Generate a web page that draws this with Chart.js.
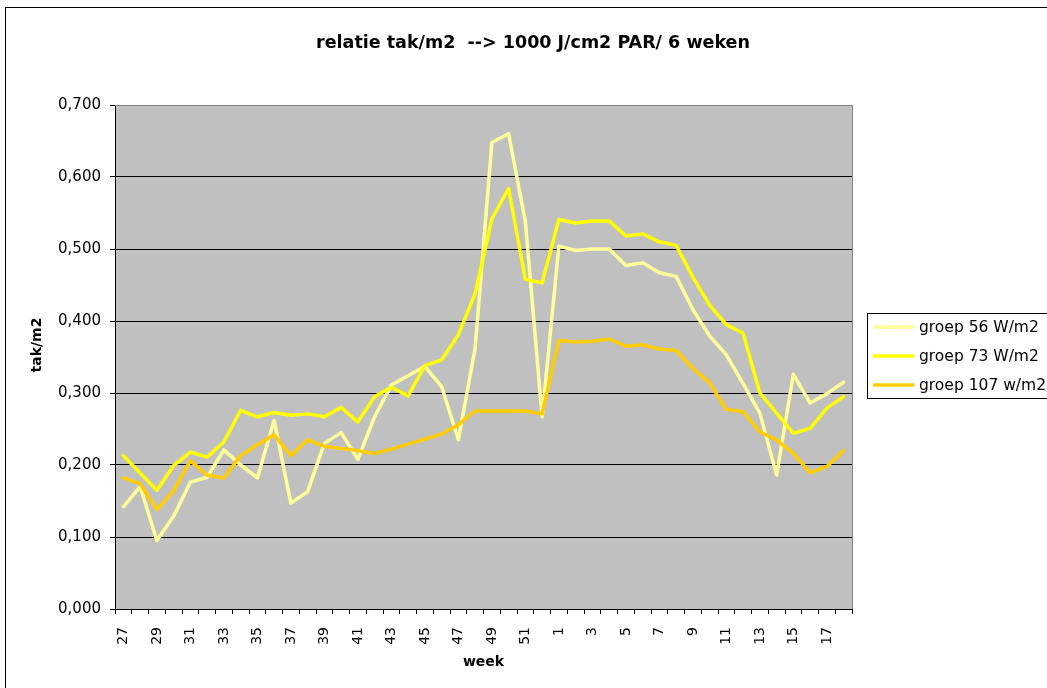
<!DOCTYPE html>
<html>
<head>
<meta charset="utf-8">
<script src="https://cdn.jsdelivr.net/npm/chart.js@4.4.1/dist/chart.umd.min.js"></script>
<style>
html,body{margin:0;padding:0;background:#fff;}
#wrap{position:relative;width:1047px;height:688px;}
</style>
</head>
<body>
<div id="wrap"><canvas id="c" width="1047" height="688"></canvas></div>
<script>
const weeks = [27,28,29,30,31,32,33,34,35,36,37,38,39,40,41,42,43,44,45,46,47,48,49,50,51,52,1,2,3,4,5,6,7,8,9,10,11,12,13,14,15,16,17,18];
const groep56 = [0.142,0.170,0.095,0.129,0.176,0.183,0.221,0.200,0.182,0.262,
                 0.147,0.163,0.230,0.245,0.208,0.267,0.311,0.324,0.337,0.309,
                 0.235,0.362,0.648,0.660,0.538,0.267,
                 0.504,0.498,0.500,0.500,0.477,0.481,0.467,0.462,0.416,0.379,
                 0.353,0.313,0.272,0.186,0.326,0.286,0.299,0.315];
const groep73 = [0.213,0.189,0.165,0.199,0.218,0.211,0.232,0.276,0.267,0.273,
                 0.269,0.271,0.267,0.280,0.260,0.295,0.308,0.296,0.338,0.346,
                 0.381,0.438,0.542,0.584,0.458,0.453,
                 0.541,0.536,0.539,0.539,0.518,0.521,0.510,0.505,0.461,0.422,
                 0.395,0.383,0.300,0.272,0.244,0.251,0.279,0.295];
const groep107 = [0.182,0.174,0.138,0.164,0.206,0.186,0.182,0.213,0.228,0.242,
                  0.213,0.235,0.226,0.223,0.220,0.216,0.222,0.229,0.236,0.243,
                  0.256,0.275,0.275,0.275,0.275,0.271,
                  0.373,0.371,0.372,0.375,0.365,0.367,0.361,0.359,0.334,0.314,
                  0.277,0.274,0.246,0.235,0.216,0.189,0.198,0.220];
const seriesLabels = ['groep 56 W/m2','groep 73 W/m2','groep 107 w/m2'];
const yTicks = [0,0.1,0.2,0.3,0.4,0.5,0.6,0.7];
const titleText = 'relatie tak/m2  --> 1000 J/cm2 PAR/ 6 weken';
const xTitle = 'week';
const yTitle = 'tak/m2';

const FONT = '"DejaVu Sans", "Liberation Sans", Arial, sans-serif';

const decor = {
  id: 'decor',
  beforeDraw(chart) {
    const ctx = chart.ctx, a = chart.chartArea;
    ctx.save();
    ctx.fillStyle = '#fff';
    ctx.fillRect(0, 0, chart.width, chart.height);
    ctx.fillStyle = '#C0C0C0';
    ctx.fillRect(a.left, a.top, a.right - a.left, a.bottom - a.top);
    ctx.restore();
  },
  beforeDatasetsDraw(chart) {
    const ctx = chart.ctx, a = chart.chartArea;
    ctx.save();
    ctx.strokeStyle = '#808080';
    ctx.lineWidth = 1;
    ctx.beginPath();
    ctx.moveTo(a.left, a.top + 0.5);
    ctx.lineTo(a.right + 0.5, a.top + 0.5);
    ctx.lineTo(a.right + 0.5, a.bottom);
    ctx.stroke();
    ctx.restore();
  },
  afterDraw(chart) {
    const ctx = chart.ctx, a = chart.chartArea;
    ctx.save();
    ctx.strokeStyle = '#000';
    ctx.lineWidth = 1;
    ctx.strokeRect(5.5, 7.5, 1200, 1000);
    ctx.fillStyle = '#000';
    ctx.textAlign = 'center';
    ctx.textBaseline = 'middle';
    ctx.font = 'bold 17.5px ' + FONT;
    ctx.fillText(titleText, 533, 43);
    ctx.font = 'bold 14px ' + FONT;
    ctx.fillText(xTitle, (a.left + a.right) / 2, 662);
    ctx.translate(37, 345);
    ctx.rotate(-Math.PI / 2);
    ctx.fillText(yTitle, 0, 0);
    ctx.restore();
    ctx.save();
    ctx.strokeStyle = '#000';
    ctx.lineWidth = 1;
    ctx.strokeRect(867.5, 313.5, 300, 85);
    ctx.font = '15.5px ' + FONT;
    ctx.textAlign = 'left';
    ctx.textBaseline = 'middle';
    const rows = [327, 356, 385];
    chart.data.datasets.forEach((ds, i) => {
      ctx.strokeStyle = ds.borderColor;
      ctx.lineWidth = 3.5;
      ctx.beginPath();
      ctx.moveTo(873, rows[i]);
      ctx.lineTo(914, rows[i]);
      ctx.stroke();
      ctx.fillStyle = '#000';
      ctx.fillText(ds.label, 919, rows[i] + 1);
    });
    ctx.restore();
  }
};

new Chart(document.getElementById('c'), {
  type: 'line',
  data: {
    labels: weeks,
    datasets: [
      {label: seriesLabels[0], data: groep56, borderColor: '#FFFF99', order: 2},
      {label: seriesLabels[1], data: groep73, borderColor: '#FFFF00', order: 1},
      {label: seriesLabels[2], data: groep107, borderColor: '#FFCC00', order: 0}
    ]
  },
  options: {
    responsive: false,
    animation: false,
    devicePixelRatio: 1,
    layout: {padding: {left: 0, top: 105, right: 195, bottom: 0}},
    elements: {
      line: {borderWidth: 3.5, tension: 0, borderCapStyle: 'round', borderJoinStyle: 'round', fill: false},
      point: {radius: 0, hoverRadius: 0}
    },
    plugins: {legend: {display: false}, title: {display: false}, tooltip: {enabled: false}},
    scales: {
      x: {
        type: 'category',
        offset: true,
        afterFit(s) { s.height = 79; },
        grid: {offset: true, drawOnChartArea: false, drawTicks: true, tickLength: 5, color: '#000'},
        border: {color: '#000', width: 1},
        ticks: {
          autoSkip: false, maxRotation: 90, minRotation: 90, padding: 13,
          color: '#000', font: {family: FONT, size: 14},
          callback(v, i) { return i % 2 === 0 ? String(weeks[i]) : ''; }
        }
      },
      y: {
        min: 0, max: 0.7,
        afterFit(s) { s.width = 115; },
        afterBuildTicks(s) { s.ticks = yTicks.map(v => ({value: v})); },
        grid: {color: (c) => (c.tick && (c.tick.value === 0 || c.tick.value === 0.7)) ? 'rgba(0,0,0,0)' : '#000', tickColor: '#000', tickLength: 5, drawTicks: true},
        border: {color: '#000', width: 1},
        ticks: {
          padding: 9, color: '#000', font: {family: FONT, size: 15},
          callback(v) { return v.toFixed(3).replace('.', ','); }
        }
      }
    }
  },
  plugins: [decor]
});
</script>
</body>
</html>
